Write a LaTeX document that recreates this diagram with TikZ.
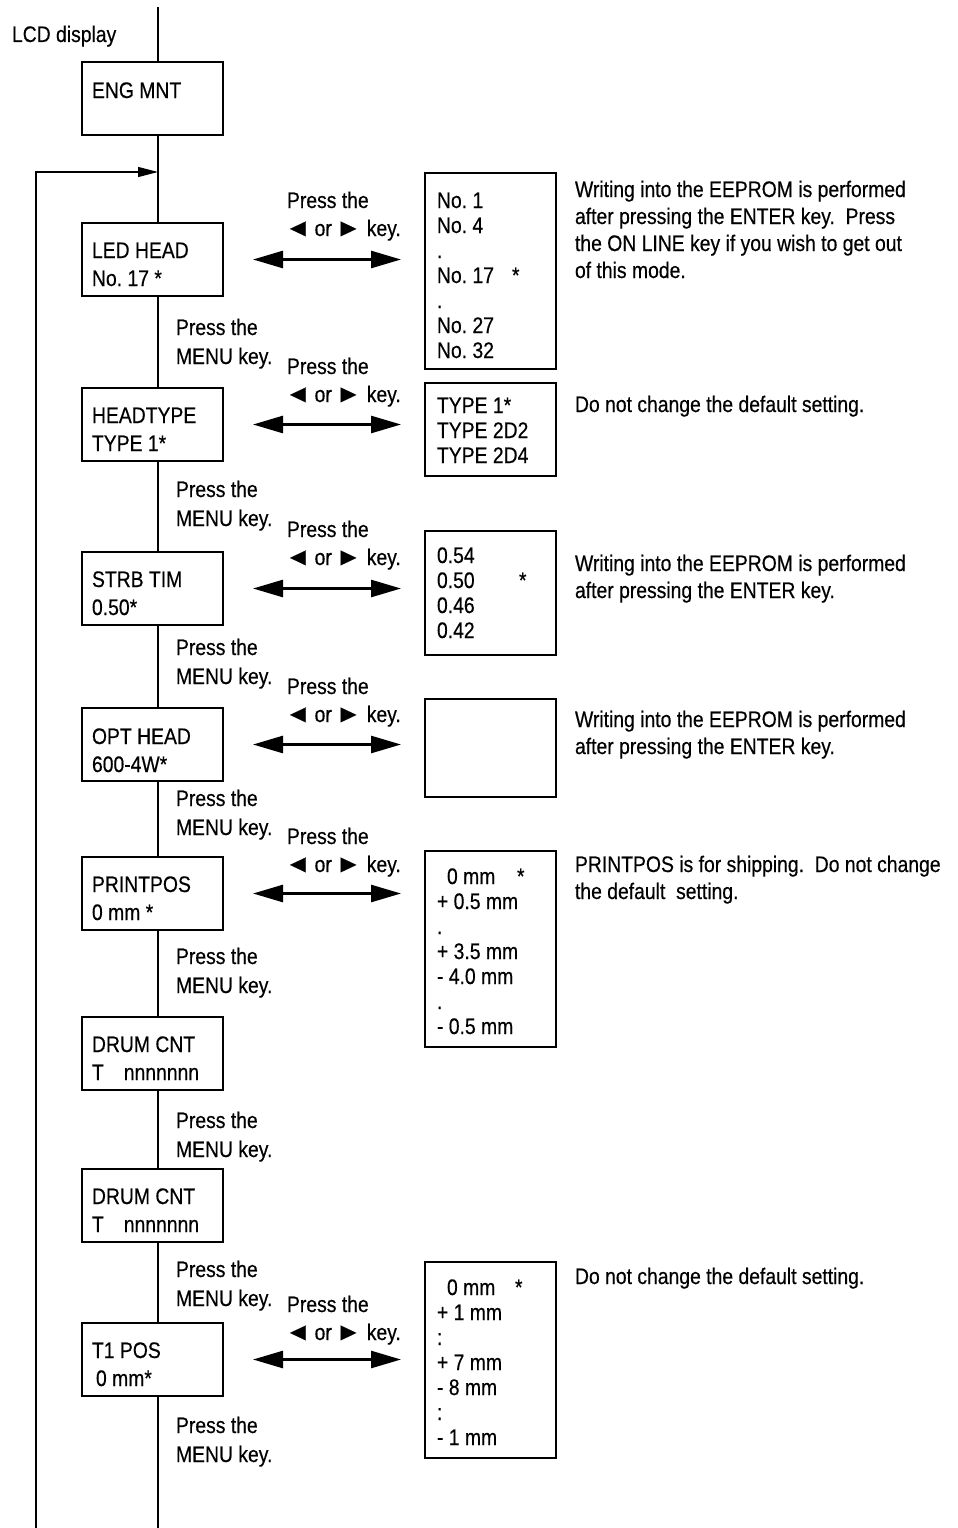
\documentclass[tikz,border=0pt]{standalone}
\usepackage{fontspec}
\usepackage{graphicx}
\setmainfont{Liberation Sans}[FakeStretch=0.86,FakeBold=0.4]
\usetikzlibrary{arrows.meta}
\newcommand{\fst}{\rule{0pt}{17pt}}
\newcommand{\lkey}{\raisebox{0pt}{\scalebox{1.35}[1.1]{◄}}}
\newcommand{\rkey}{\raisebox{0pt}{\scalebox{1.35}[1.1]{►}}}
\frenchspacing
\begin{document}
\begin{tikzpicture}[x=1pt,y=-1pt,
  every node/.style={inner sep=0pt, outer sep=0pt},
  lcd/.style={draw, line width=1.3pt, fill=white, minimum width=141pt, minimum height=73pt, anchor=north west},
  lst/.style={draw, line width=1.3pt, fill=white, minimum width=131pt, anchor=north west},
  txt/.style={anchor=north west, align=left, font=\fontsize{22.5}{28}\selectfont},
  mtxt/.style={anchor=north west, align=left, font=\fontsize{22.5}{29}\selectfont},
  ltxt/.style={anchor=north west, align=left, font=\fontsize{22.5}{25}\selectfont},
  ntxt/.style={anchor=north west, align=left, font=\fontsize{22.5}{27}\selectfont},
  conn/.style={line width=1.3pt},
  dbl/.style={line width=2.6pt, {Triangle[length=30pt,width=17pt]}-{Triangle[length=30pt,width=17pt]}, shorten <=30pt, shorten >=24pt},
  loop/.style={line width=1.3pt, -{Triangle[length=20pt,width=10pt]}}
]
\useasboundingbox (0,0) rectangle (958,1528);

% coordinates of the main line and the loop
\coordinate (vtop) at (158,7);
\coordinate (vbot) at (158,1528);
\coordinate (lbot) at (36,1528);
\coordinate (ltop) at (36,172);
\coordinate (ljoin) at (158,172);

\node[txt] (lcdlabel) at (12,25) {\fst LCD display};

% LCD boxes
\node[lcd] (eng) at (82,62) {};
\node[txt] (engt) at (92,81) {\fst ENG MNT};

\node[lcd] (led) at (82,223) {};
\node[txt] (ledt) at (92,241) {\fst LED HEAD\\No. 17 *};

\node[lcd] (htype) at (82,388) {};
\node[txt] (htypet) at (92,406) {\fst HEADTYPE\\TYPE 1*};

\node[lcd] (strb) at (82,552) {};
\node[txt] (strbt) at (92,570) {\fst STRB TIM\\0.50*};

\node[lcd] (opt) at (82,708) {};
\node[txt] (optt) at (92,727) {\fst OPT HEAD\\600-4W*};

\node[lcd] (ppos) at (82,857) {};
\node[txt] (ppost) at (92,875) {\fst PRINTPOS\\0 mm *};

\node[lcd] (drumA) at (82,1017) {};
\node[txt] (drumAt) at (92,1035) {\fst DRUM CNT\\T\hspace*{20pt}nnnnnnn};

\node[lcd] (drumB) at (82,1169) {};
\node[txt] (drumBt) at (92,1187) {\fst DRUM CNT\\T\hspace*{20pt}nnnnnnn};

\node[lcd] (tpos) at (82,1323) {};
\node[txt] (tpost) at (92,1341) {\fst T1 POS\\\hspace*{4pt}0 mm*};

% main line
\draw[conn] (vtop) -- (eng.north -| vtop);
\draw[conn] (eng.south -| vtop) -- (led.north -| vtop);
\draw[conn] (led.south -| vtop) -- (htype.north -| vtop);
\draw[conn] (htype.south -| vtop) -- (strb.north -| vtop);
\draw[conn] (strb.south -| vtop) -- (opt.north -| vtop);
\draw[conn] (opt.south -| vtop) -- (ppos.north -| vtop);
\draw[conn] (ppos.south -| vtop) -- (drumA.north -| vtop);
\draw[conn] (drumA.south -| vtop) -- (drumB.north -| vtop);
\draw[conn] (drumB.south -| vtop) -- (tpos.north -| vtop);
\draw[conn] (tpos.south -| vtop) -- (vbot);
\draw[loop] (lbot) -- (ltop) -- (ljoin);

% MENU key labels
\node[mtxt] (m1) at (176,318) {\fst Press the\\MENU key.};
\node[mtxt] (m2) at (176,480) {\fst Press the\\MENU key.};
\node[mtxt] (m3) at (176,638) {\fst Press the\\MENU key.};
\node[mtxt] (m4) at (176,789) {\fst Press the\\MENU key.};
\node[mtxt] (m5) at (176,947) {\fst Press the\\MENU key.};
\node[mtxt] (m6) at (176,1111) {\fst Press the\\MENU key.};
\node[mtxt] (m7) at (176,1260) {\fst Press the\\MENU key.};
\node[mtxt] (m8) at (176,1416) {\fst Press the\\MENU key.};

% arrow key labels
\node[txt] (k1) at (287,191) {\fst Press the\\\hspace*{-2pt}\lkey\,or\,\rkey\ key.};
\node[txt] (k2) at (287,357) {\fst Press the\\\hspace*{-2pt}\lkey\,or\,\rkey\ key.};
\node[txt] (k3) at (287,520) {\fst Press the\\\hspace*{-2pt}\lkey\,or\,\rkey\ key.};
\node[txt] (k4) at (287,677) {\fst Press the\\\hspace*{-2pt}\lkey\,or\,\rkey\ key.};
\node[txt] (k5) at (287,827) {\fst Press the\\\hspace*{-2pt}\lkey\,or\,\rkey\ key.};
\node[txt] (k6) at (287,1295) {\fst Press the\\\hspace*{-2pt}\lkey\,or\,\rkey\ key.};

% value lists
\node[lst, minimum height=196pt] (ledl) at (425,173) {};
\node[ltxt] (ledlt) at (437,191) {\fst No. 1\\No. 4\\.\\\makebox[75pt][l]{No. 17}*\\.\\No. 27\\No. 32};

\node[lst, minimum height=93pt] (htypel) at (425,383) {};
\node[ltxt] (htypelt) at (437,396) {\fst TYPE 1*\\TYPE 2D2\\TYPE 2D4};

\node[lst, minimum height=124pt] (strbl) at (425,531) {};
\node[ltxt] (strblt) at (437,546) {\fst 0.54\\\makebox[82pt][l]{0.50}*\\0.46\\0.42};

\node[lst, minimum height=98pt] (optl) at (425,699) {};

\node[lst, minimum height=196pt] (ppsl) at (425,851) {};
\node[ltxt] (ppslt) at (437,867) {\fst \hspace*{10pt}\makebox[70pt][l]{0 mm}*\\+ 0.5 mm\\.\\+ 3.5 mm\\- 4.0 mm\\.\\- 0.5 mm};

\node[lst, minimum height=196pt] (tposl) at (425,1262) {};
\node[ltxt] (tposlt) at (437,1278) {\fst \hspace*{10pt}\makebox[68pt][l]{0 mm}*\\+ 1 mm\\:\\+ 7 mm\\- 8 mm\\:\\- 1 mm};

% double arrows
\draw[dbl] (led.east) -- (ledl.west |- led.east);
\draw[dbl] (htype.east) -- (htypel.west |- htype.east);
\draw[dbl] (strb.east) -- (strbl.west |- strb.east);
\draw[dbl] (opt.east) -- (optl.west |- opt.east);
\draw[dbl] (ppos.east) -- (ppsl.west |- ppos.east);
\draw[dbl] (tpos.east) -- (tposl.west |- tpos.east);

% notes
\node[ntxt] (n1) at (575,180) {\fst Writing into the EEPROM is performed\\after pressing the ENTER key.\ \ Press\\the ON LINE key if you wish to get out\\of this mode.};
\node[ntxt] (n2) at (575,395) {\fst Do not change the default setting.};
\node[ntxt] (n3) at (575,554) {\fst Writing into the EEPROM is performed\\after pressing the ENTER key.};
\node[ntxt] (n4) at (575,710) {\fst Writing into the EEPROM is performed\\after pressing the ENTER key.};
\node[ntxt] (n5) at (575,855) {\fst PRINTPOS is for shipping.\ \ Do not change\\the default\ \ setting.};
\node[ntxt] (n6) at (575,1267) {\fst Do not change the default setting.};
\end{tikzpicture}
\end{document}
